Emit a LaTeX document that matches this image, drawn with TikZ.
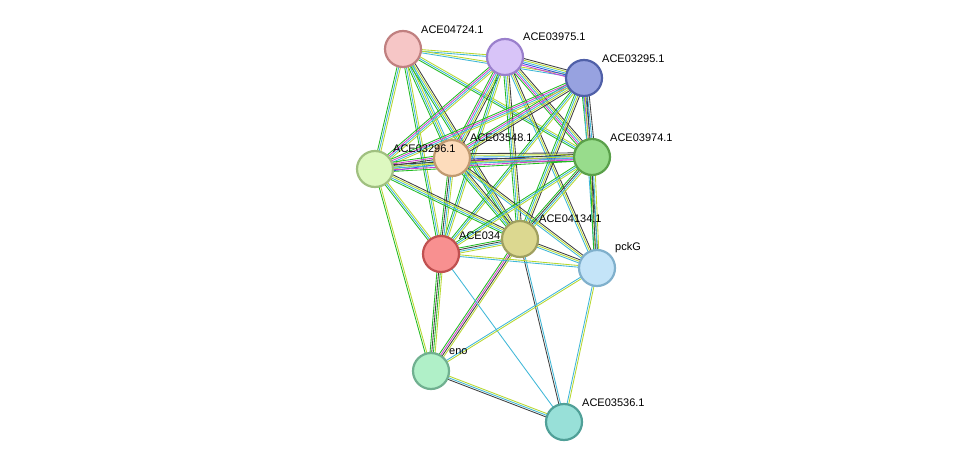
\documentclass[tikz,border=0pt]{standalone}
\usepackage{fontspec}
\setmainfont{Liberation Sans}
\usetikzlibrary{calc}
\definecolor{cy}{HTML}{3FB8D8}
\definecolor{yg}{HTML}{B8D830}
\definecolor{gr}{HTML}{22BB22}
\definecolor{mg}{HTML}{D040D0}
\definecolor{dk}{HTML}{404040}
\definecolor{bl}{HTML}{3050E0}
\newcommand\edg[3]{%
  \foreach \c [count=\i] in {#3}{\global\let\nn\i}%
  \foreach \c [count=\i] in {#3}{%
    \pgfmathsetmacro\o{(\i-(\nn+1)/2)*1.7}%
    \draw[\c, line width=0.85pt] ($(#1)!\o pt!90:(#2)$) -- ($(#2)!\o pt!-90:(#1)$);}}
\tikzset{prot/.style={circle, minimum size=36pt, line width=2.2pt, inner sep=0pt},
  lab/.style={font=\fontsize{11}{13}\selectfont, anchor=south west, inner sep=1pt}}
\begin{document}
\begin{tikzpicture}[x=1pt,y=-1pt]
\useasboundingbox (0,0) rectangle (976,468);
\fill[white] (0,0) rectangle (976,468);
\coordinate (a) at (403,49);
\coordinate (b) at (505,57);
\coordinate (c) at (584,78);
\coordinate (d) at (592,157);
\coordinate (e) at (452,158);
\coordinate (f) at (375,169);
\coordinate (g) at (520,239);
\coordinate (h) at (441,254);
\coordinate (p) at (597,268);
\coordinate (n) at (431,371);
\coordinate (s) at (564,422);
\edg{a}{b}{cy,yg}
\edg{a}{c}{cy,yg}
\edg{a}{e}{gr,cy,yg,cy}
\edg{a}{f}{gr,cy,yg}
\edg{a}{d}{gr,cy,yg}
\edg{a}{g}{gr,cy,yg,dk}
\edg{a}{h}{gr,cy,yg}
\edg{b}{c}{mg,bl,cy,yg,dk}
\edg{b}{d}{gr,mg,cy,yg,dk}
\edg{b}{e}{gr,mg,cy,yg,dk}
\edg{b}{f}{gr,mg,cy,yg}
\edg{b}{g}{gr,cy,yg,dk}
\edg{b}{h}{gr,cy,yg}
\edg{b}{p}{cy,yg,dk}
\edg{c}{d}{gr,mg,bl,cy,dk}
\edg{c}{e}{gr,mg,cy,yg,dk}
\edg{c}{f}{gr,mg,cy,yg}
\edg{c}{g}{gr,cy,yg,dk}
\edg{c}{h}{gr,cy,yg}
\edg{c}{p}{cy,yg,dk}
\edg{e}{f}{gr,mg,dk,cy,yg,bl}
\edg{e}{d}{gr,mg,bl,cy,yg,dk}
\edg{e}{g}{gr,cy,yg,dk}
\edg{e}{h}{gr,dk,cy,yg}
\edg{e}{p}{cy,yg,dk}
\edg{f}{d}{gr,mg,cy,yg,dk}
\edg{f}{g}{gr,cy,yg,dk}
\edg{f}{h}{gr,cy,yg}
\edg{f}{n}{gr,yg}
\edg{d}{g}{gr,dk,cy,yg}
\edg{d}{h}{gr,cy,yg}
\edg{d}{p}{gr,dk,cy,yg}
\edg{g}{h}{gr,dk,cy,yg}
\edg{g}{p}{cy,yg,dk}
\edg{g}{n}{gr,mg,dk,yg}
\edg{g}{s}{dk,cy}
\edg{h}{n}{gr,dk,gr,yg}
\edg{h}{p}{cy,yg}
\edg{h}{s}{cy}
\edg{n}{p}{yg,cy}
\edg{n}{s}{dk,cy,yg}
\edg{p}{s}{cy,yg}
\node[prot, fill={rgb,255:red,246;green,198;blue,198}, draw={rgb,255:red,192;green,128;blue,128}] (A) at (a) {};
\node[prot, fill={rgb,255:red,216;green,196;blue,248}, draw={rgb,255:red,154;green,128;blue,204}] (B) at (b) {};
\node[prot, fill={rgb,255:red,151;green,162;blue,224}, draw={rgb,255:red,80;green,96;blue,168}] (C) at (c) {};
\node[prot, fill={rgb,255:red,152;green,220;blue,140}, draw={rgb,255:red,90;green,160;blue,74}] (D) at (d) {};
\node[prot, fill={rgb,255:red,253;green,220;blue,188}, draw={rgb,255:red,192;green,154;blue,112}] (E) at (e) {};
\node[prot, fill={rgb,255:red,221;green,248;blue,192}, draw={rgb,255:red,160;green,192;blue,128}] (F) at (f) {};
\node[prot, fill={rgb,255:red,248;green,144;blue,144}, draw={rgb,255:red,192;green,80;blue,80}] (H) at (h) {};
\node[lab] at (458,241) {ACE034};
\node[prot, fill={rgb,255:red,220;green,216;blue,144}, draw={rgb,255:red,160;green,160;blue,96}] (G) at (g) {};
\node[prot, fill={rgb,255:red,196;green,228;blue,248}, draw={rgb,255:red,128;green,176;blue,204}] (P) at (p) {};
\node[prot, fill={rgb,255:red,176;green,240;blue,200}, draw={rgb,255:red,112;green,176;blue,144}] (N) at (n) {};
\node[prot, fill={rgb,255:red,152;green,224;blue,216}, draw={rgb,255:red,80;green,160;blue,152}] (S) at (s) {};
\node[lab] at (420,35) {ACE04724.1};
\node[lab] at (522,42) {ACE03975.1};
\node[lab] at (601,64) {ACE03295.1};
\node[lab] at (609,143) {ACE03974.1};
\node[lab] at (469,143) {ACE03548.1};
\node[lab] at (392,154) {ACE03296.1};
\node[lab] at (538,224) {ACE04134.1};
\node[lab] at (614,254) {pckG};
\node[lab] at (448,356) {eno};
\node[lab] at (581,408) {ACE03536.1};
\end{tikzpicture}
\end{document}
